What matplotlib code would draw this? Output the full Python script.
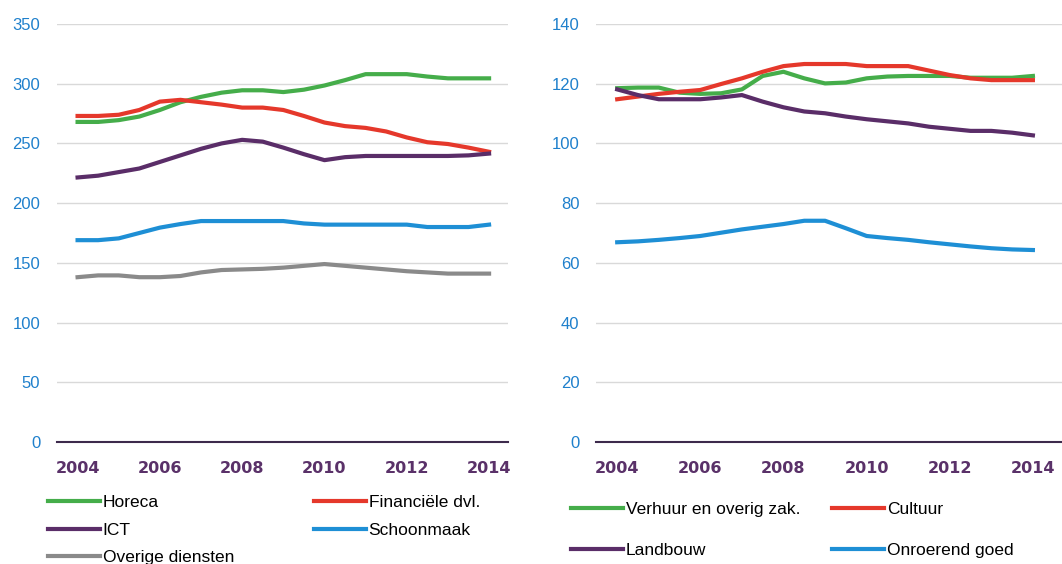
import matplotlib
matplotlib.use('Agg')
from matplotlib import pyplot as plt

# half-year points 2004 .. 2014
years = [2004 + 0.5 * i for i in range(21)]

horeca = [268, 268, 269.5, 272.5, 278, 284.5, 289, 292.5, 294.5, 294.5, 293,
          295, 298.5, 303, 308, 308, 308, 306, 304.5, 304.5, 304.5]
financiele = [273, 273, 274, 278, 285, 286.5, 284.5, 282.5, 280, 280, 278,
              273, 267.5, 264.5, 263, 260, 255, 251, 249.5, 246.5, 243]
ict = [221.5, 223, 226, 229, 234.5, 240, 245.5, 250, 253, 251.5, 246.5,
       241, 236, 238.5, 239.5, 239.5, 239.5, 239.5, 239.5, 240, 241.5]
schoonmaak = [169, 169, 170.5, 175, 179.5, 182.5, 185, 185, 185, 185, 185,
              183, 182, 182, 182, 182, 182, 180, 180, 180, 182]
overige = [138, 139.5, 139.5, 138, 138, 139, 142, 144, 144.5, 145, 146,
           147.5, 149, 147.5, 146, 144.5, 143, 142, 141, 141, 141]

verhuur = [118.5, 118.7, 118.7, 117, 116.6, 116.8, 118.1, 122.6, 124, 121.8,
           120.1, 120.4, 121.8, 122.4, 122.6, 122.6, 122.6, 122, 122, 122, 122.6]
cultuur = [114.8, 115.7, 116.6, 117.3, 117.9, 119.9, 121.8, 124, 125.9, 126.6,
           126.6, 126.6, 125.9, 125.9, 125.9, 124.4, 122.9, 121.8, 121.2, 121.2, 121.2]
landbouw = [118.1, 116.2, 114.8, 114.8, 114.8, 115.4, 116.2, 114, 112.1, 110.7,
            110.1, 109, 108.1, 107.4, 106.7, 105.6, 104.9, 104.2, 104.2, 103.6, 102.7]
onroerend = [66.9, 67.2, 67.7, 68.3, 69, 70.1, 71.2, 72.1, 73, 74.1, 74.1,
             71.6, 69, 68.3, 67.7, 66.9, 66.2, 65.5, 64.9, 64.5, 64.3]

xticks = [2004, 2006, 2008, 2010, 2012, 2014]

GREEN = '#45ad4a'
RED = '#e5382b'
PURPLE = '#5a2d68'
BLUE = '#1e8fd5'
GREY = '#8a8a8a'
TICKBLUE = '#1f80cc'
TICKPURPLE = '#5a3169'

plt.rcParams['font.family'] = ['Liberation Sans', 'DejaVu Sans']

fig = plt.figure(figsize=(10.62, 5.64), dpi=100)
H = 564.0
W = 1062.0
ax1 = fig.add_axes([57 / W, 1 - 442 / H, (508 - 57) / W, 418 / H])
ax2 = fig.add_axes([596 / W, 1 - 442 / H, (1062 - 596) / W, 418 / H])


def style(ax, ylim, step, xlim):
    ax.set_ylim(0, ylim)
    ax.set_xlim(*xlim)
    ax.set_yticks(range(0, ylim + 1, step))
    ax.set_xticks(xticks)
    ax.grid(axis='y', color='#d9d9d9', linewidth=1)
    ax.set_axisbelow(True)
    for s in ['top', 'right', 'left']:
        ax.spines[s].set_visible(False)
    ax.spines['bottom'].set_color('#3d2a4c')
    ax.spines['bottom'].set_linewidth(1.5)
    ax.tick_params(axis='y', length=0, pad=12, labelsize=12, labelcolor=TICKBLUE)
    ax.tick_params(axis='x', length=0, pad=14, labelcolor=TICKPURPLE)
    for lab in ax.get_xticklabels():
        lab.set_fontfamily('DejaVu Sans')
        lab.set_fontweight('bold')
        lab.set_fontsize(11.5)


lw = 3
ax1.plot(years, horeca, color=GREEN, lw=lw, label='Horeca')
ax1.plot(years, financiele, color=RED, lw=lw, label='Financiële dvl.')
ax1.plot(years, ict, color=PURPLE, lw=lw, label='ICT')
ax1.plot(years, schoonmaak, color=BLUE, lw=lw, label='Schoonmaak')
ax1.plot(years, overige, color=GREY, lw=lw, label='Overige diensten')
style(ax1, 350, 50, (2003.5, 2014.46))

ax2.plot(years, verhuur, color=GREEN, lw=lw, label='Verhuur en overig zak.')
ax2.plot(years, cultuur, color=RED, lw=lw, label='Cultuur')
ax2.plot(years, landbouw, color=PURPLE, lw=lw, label='Landbouw')
ax2.plot(years, onroerend, color=BLUE, lw=lw, label='Onroerend goed')
style(ax2, 140, 20, (2003.49, 2014.7))

# legends: column-major order
h, l = ax1.get_legend_handles_labels()
order = [0, 2, 4, 1, 3]
fig.legend([h[i] for i in order], [l[i] for i in order], ncol=2,
           loc='upper left', bbox_to_anchor=(48 / W, 1 - 495 / H),
           frameon=False, fontsize=12.5, handlelength=3.0, handletextpad=0.15,
           columnspacing=4.6, labelspacing=0.71, borderpad=0, borderaxespad=0)

h, l = ax2.get_legend_handles_labels()
order = [0, 2, 1, 3]
fig.legend([h[i] for i in order], [l[i] for i in order], ncol=2,
           loc='upper left', bbox_to_anchor=(571 / W, 1 - 502 / H),
           frameon=False, fontsize=12.5, handlelength=3.0, handletextpad=0.15,
           columnspacing=1.85, labelspacing=1.5, borderpad=0, borderaxespad=0)

fig.savefig('out.png', dpi=100)
